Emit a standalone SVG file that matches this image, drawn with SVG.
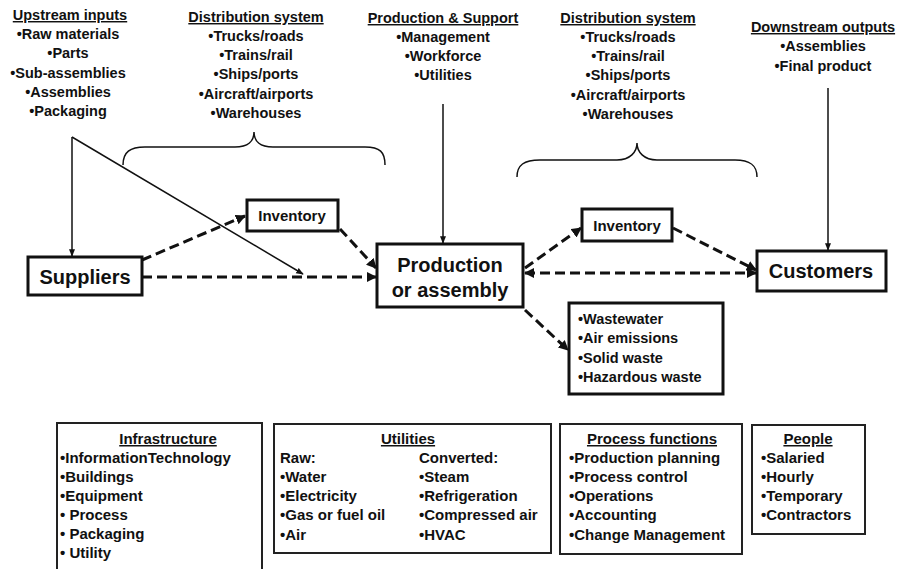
<svg xmlns="http://www.w3.org/2000/svg" width="914" height="569" viewBox="0 0 914 569">
<style>
text{font-family:"Liberation Sans",Arial,sans-serif;font-weight:bold;fill:#111}
.s{font-size:14.5px}
.b{font-size:15px}
.c{text-anchor:middle}
.u{text-decoration:underline}
.big{font-size:20px}
.inv{font-size:15px}
.box{fill:#fff;stroke:#111;stroke-width:3}
.pbox{fill:#fff;stroke:#222;stroke-width:2}
.dash{fill:none;stroke:#111;stroke-width:3;stroke-dasharray:10 5}
.thin{fill:none;stroke:#111;stroke-width:1.5}
</style>
<defs>
<marker id="ah" viewBox="0 0 10 10" refX="9" refY="5" markerWidth="3.4" markerHeight="3.4" orient="auto-start-reverse" markerUnits="strokeWidth">
<path d="M0,0 L10,5 L0,10 z" fill="#111"/>
</marker>
<marker id="sh" viewBox="0 0 10 10" refX="9" refY="5" markerWidth="5" markerHeight="5" orient="auto" markerUnits="strokeWidth">
<path d="M0,1 L10,5 L0,9 z" fill="#111"/>
</marker>
</defs>
<rect width="914" height="569" fill="#fff"/>

<g id="upstream">
<text class="s c" x="70" y="20"><tspan class="u">Upstream inputs</tspan></text>
<text class="s c" x="68" y="39">•Raw materials</text>
<text class="s c" x="68" y="58">•Parts</text>
<text class="s c" x="68" y="78">•Sub-assemblies</text>
<text class="s c" x="68" y="97">•Assemblies</text>
<text class="s c" x="68" y="116">•Packaging</text>
</g>
<g id="dist-left">
<text class="s c" x="256" y="22"><tspan class="u">Distribution system</tspan></text>
<text class="s c" x="256" y="41">•Trucks/roads</text>
<text class="s c" x="256" y="60">•Trains/rail</text>
<text class="s c" x="256" y="79">•Ships/ports</text>
<text class="s c" x="256" y="99">•Aircraft/airports</text>
<text class="s c" x="256" y="118">•Warehouses</text>
<path class="thin" d="M123,165 C123,152 130,147 145,147 L235,147 C248,147 254,141 254,132 C254,141 260,147 273,147 L365,147 C380,147 385,152 385,165"/>
</g>
<g id="prod-support">
<text class="s c" x="443" y="23"><tspan class="u">Production &amp; Support</tspan></text>
<text class="s c" x="443" y="42">•Management</text>
<text class="s c" x="443" y="61">•Workforce</text>
<text class="s c" x="443" y="80">•Utilities</text>
</g>
<g id="dist-right">
<text class="s c" x="628" y="23"><tspan class="u">Distribution system</tspan></text>
<text class="s c" x="628" y="42">•Trucks/roads</text>
<text class="s c" x="628" y="61">•Trains/rail</text>
<text class="s c" x="628" y="80">•Ships/ports</text>
<text class="s c" x="628" y="100">•Aircraft/airports</text>
<text class="s c" x="628" y="119">•Warehouses</text>
<path class="thin" d="M517,177 C517,165 524,160 540,160 L617,160 C630,160 637,152 637,143 C637,152 644,160 657,160 L735,160 C750,160 757,165 757,177"/>
</g>
<g id="downstream">
<text class="s c" x="823" y="32"><tspan class="u">Downstream outputs</tspan></text>
<text class="s c" x="823" y="51">•Assemblies</text>
<text class="s c" x="823" y="71">•Final product</text>
</g>

<g id="connectors">
<path class="thin" d="M72,137 L72,256" marker-end="url(#sh)"/>
<path class="thin" d="M72,137 L303,274" marker-end="url(#sh)"/>
<path class="thin" d="M443,104 L443,243" marker-end="url(#sh)"/>
<path class="thin" d="M828,88 L828,250" marker-end="url(#sh)"/>
<path class="dash" d="M142,260 L245,216" marker-end="url(#ah)"/>
<path class="dash" d="M340,229 L376,268" marker-end="url(#ah)"/>
<path class="dash" d="M142,277 L376,277" marker-end="url(#ah)"/>
<path class="dash" d="M525,268 L581,228" marker-end="url(#ah)"/>
<path class="dash" d="M673,228 L756,270" marker-end="url(#ah)"/>
<path class="dash" d="M525,273 L756,273" marker-start="url(#ah)" marker-end="url(#ah)"/>
<path class="dash" d="M525,310 L568,350" marker-end="url(#ah)"/>
</g>

<g id="suppliers">
<rect class="box" x="28" y="257" width="114" height="38"/>
<text class="big c" x="85" y="284">Suppliers</text>
</g>
<g id="inventory-left">
<rect class="box" x="247" y="200" width="91" height="31"/>
<text class="inv c" x="292" y="221">Inventory</text>
</g>
<g id="production">
<rect class="box" x="377" y="244" width="146" height="63"/>
<text class="big c" x="450" y="272">Production</text>
<text class="big c" x="450" y="297">or assembly</text>
</g>
<g id="inventory-right">
<rect class="box" x="582" y="209" width="90" height="32"/>
<text class="inv c" x="627" y="231">Inventory</text>
</g>
<g id="customers">
<rect class="box" x="757" y="251" width="129" height="40"/>
<text class="big c" x="821" y="278">Customers</text>
</g>
<g id="waste">
<rect class="box" x="569" y="303" width="154" height="91"/>
<text class="s" x="578" y="324">•Wastewater</text>
<text class="s" x="578" y="343">•Air emissions</text>
<text class="s" x="578" y="363">•Solid waste</text>
<text class="s" x="578" y="382">•Hazardous waste</text>
</g>

<g id="infrastructure">
<path class="pbox" d="M57,575 L57,423 L262,423 L262,575"/>
<text class="b c" x="168" y="444"><tspan class="u">Infrastructure</tspan></text>
<text class="b" x="60" y="463">•InformationTechnology</text>
<text class="b" x="60" y="482">•Buildings</text>
<text class="b" x="60" y="501">•Equipment</text>
<text class="b" x="60" y="520">•  Process</text>
<text class="b" x="60" y="539">•  Packaging</text>
<text class="b" x="60" y="558">•  Utility</text>
</g>
<g id="utilities">
<rect class="pbox" x="274" y="424" width="277" height="129"/>
<text class="b c" x="408" y="444"><tspan class="u">Utilities</tspan></text>
<text class="b" x="280" y="463">Raw:</text>
<text class="b" x="280" y="482">•Water</text>
<text class="b" x="280" y="501">•Electricity</text>
<text class="b" x="280" y="520">•Gas or fuel oil</text>
<text class="b" x="280" y="540">•Air</text>
<text class="b" x="419" y="463">Converted:</text>
<text class="b" x="419" y="482">•Steam</text>
<text class="b" x="419" y="501">•Refrigeration</text>
<text class="b" x="419" y="520">•Compressed air</text>
<text class="b" x="419" y="540">•HVAC</text>
</g>
<g id="process-functions">
<rect class="pbox" x="560" y="424" width="182" height="130"/>
<text class="b c" x="652" y="444"><tspan class="u">Process functions</tspan></text>
<text class="b" x="569" y="463">•Production planning</text>
<text class="b" x="569" y="482">•Process control</text>
<text class="b" x="569" y="501">•Operations</text>
<text class="b" x="569" y="520">•Accounting</text>
<text class="b" x="569" y="540">•Change Management</text>
</g>
<g id="people">
<rect class="pbox" x="752" y="425" width="113" height="109"/>
<text class="b c" x="808" y="444"><tspan class="u">People</tspan></text>
<text class="b" x="761" y="463">•Salaried</text>
<text class="b" x="761" y="482">•Hourly</text>
<text class="b" x="761" y="501">•Temporary</text>
<text class="b" x="761" y="520">•Contractors</text>
</g>
</svg>
